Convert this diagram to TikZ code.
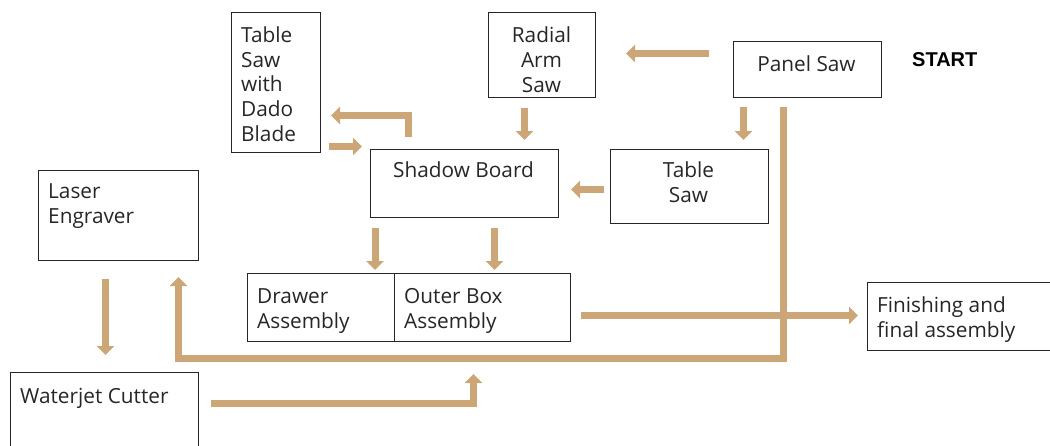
\documentclass[tikz,border=0pt]{standalone}
\usepackage{fontspec}
\setmainfont{Open Sans}
\newfontfamily\startfont{Liberation Sans}
\usepackage{xcolor}
\usepackage{tikz}
\usetikzlibrary{arrows.meta, positioning, calc}
\definecolor{woodtan}{RGB}{205,166,119}

\begin{document}
\begin{tikzpicture}[x=1pt, y=-1pt, line join=miter]
  \tikzstyle{box} = [rectangle, draw=black!85, line width=1pt, anchor=north west, inner sep=0pt]
  \tikzstyle{txt} = [inner sep=0pt, font=\fontsize{20.8}{24.8}\selectfont, text=black!85]
  \tikzstyle{flow} = [draw=woodtan, line width=7pt, -{Triangle[width=17pt, length=9pt]}]

  \useasboundingbox (0,0) rectangle (1050,445);

  % stations
  \node[box, minimum width=89pt, minimum height=140pt] (Dado) at (231,12) {};
  \node[box, minimum width=107pt, minimum height=85pt] (Radial) at (488,12) {};
  \node[box, minimum width=148pt, minimum height=56pt] (Panel) at (733,41) {};
  \node[box, minimum width=158pt, minimum height=74pt] (TSaw) at (610,149) {};
  \node[box, minimum width=188pt, minimum height=68pt] (Shadow) at (370,149) {};
  \node[box, minimum width=160pt, minimum height=90pt] (Laser) at (38,170) {};
  \node[box, minimum width=147pt, minimum height=68pt] (Drawer) at (247,273) {};
  \node[box, minimum width=176pt, minimum height=68pt] (Outer) at (394,273) {};
  \node[box, minimum width=190pt, minimum height=68pt] (Finish) at (867,282) {};
  \node[box, minimum width=188pt, minimum height=90pt] (Water) at (10,372) {};

  % labels (base = last line)
  \node[txt, anchor=base west, align=left] (DadoTxt) at (241,141.5) {Table\\Saw\\with\\Dado\\Blade};
  \node[txt, anchor=base, align=center] (RadialTxt) at (541.5,92.5) {Radial\\Arm\\Saw};
  \node[txt, anchor=base] (PanelTxt) at (806.5,71) {Panel Saw};
  \node[inner sep=0pt, anchor=base west, font=\startfont\bfseries\fontsize{20}{20}\selectfont] (Start) at (912,66.5) {START};
  \node[txt, anchor=base, align=center] (TSawTxt) at (688.5,202.5) {Table\\Saw};
  \node[txt, anchor=base] (ShadowTxt) at (463.5,177.5) {Shadow Board};
  \node[txt, anchor=base west, align=left] (LaserTxt) at (48,223.5) {Laser\\Engraver};
  \node[txt, anchor=base west, align=left] (DrawerTxt) at (257,328.5) {Drawer\\Assembly};
  \node[txt, anchor=base west, align=left] (OuterTxt) at (404,328.5) {Outer Box\\Assembly};
  \node[txt, anchor=base west, align=left] (FinishTxt) at (877,337.5) {Finishing and\\final assembly};
  \node[txt, anchor=base west] (WaterTxt) at (20,403.5) {Waterjet Cutter};

  % material flow
  \draw[flow, shorten <=24pt, shorten >=30pt] ([yshift=16pt]Panel.west) -- ([yshift=1.5pt]Radial.east);
  \draw[flow, shorten <=10pt, shorten >=9pt] ($(Radial.south)+(-17.5,0)$) -- ($(Radial.south |- Shadow.north)+(-17.5,0)$);
  \draw[flow, shorten <=9pt, shorten >=9pt] ($(Panel.south)+(-64,0)$) -- ($(Panel.south |- TSaw.north)+(-64,0)$);
  \draw[flow, shorten <=6pt, shorten >=12pt] ($(TSaw.west)+(0,3)$) -- ($(Shadow.east |- TSaw.west)+(0,3)$);
  \draw[flow, shorten <=12pt, shorten >=10pt] ($(Shadow.north)+(-56,0)$) |- ($(Dado.east)+(0,33)$);
  \draw[flow, shorten <=8pt, shorten >=8pt] ($(Dado.east)+(0,64)$) -- ($(Shadow.west |- Dado.east)+(0,64)$);
  \draw[flow, shorten <=10pt, shorten >=3pt] ($(Shadow.south west)+(5,0)$) -- ($(Shadow.south west |- Drawer.north)+(5,0)$);
  \draw[flow, shorten <=10pt, shorten >=3pt] ($(Shadow.south)+(30,0)$) -- ($(Shadow.south |- Outer.north)+(30,0)$);
  \draw[flow, shorten <=9pt, shorten >=16pt] ($(Panel.south)+(-24,0)$) |- ($(Laser.south)+(60,97)$) -- ($(Laser.south)+(60,0)$);
  \draw[flow, shorten <=18pt, shorten >=17pt] ($(Laser.south)+(-13,0)$) -- ($(Laser.south |- Water.north)+(-13,0)$);
  \draw[flow, shorten <=12pt, shorten >=32pt] ($(Water.east)+(0,-14)$) -| ($(Outer.south)+(-9,0)$);
  \draw[flow, shorten <=10pt, shorten >=9pt] ($(Outer.east)+(0,8)$) -- ($(Finish.west |- Outer.east)+(0,8)$);
\end{tikzpicture}
\end{document}
